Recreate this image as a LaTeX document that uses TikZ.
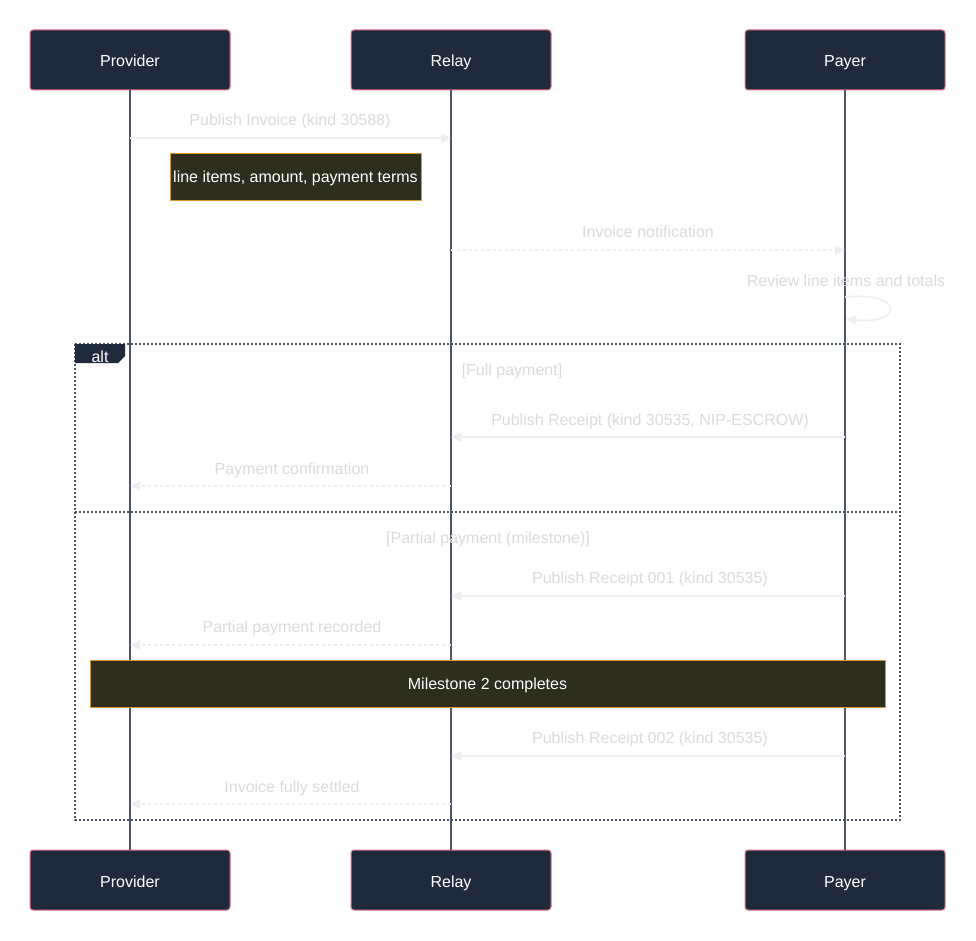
\documentclass[tikz,border=0pt]{standalone}
\usepackage{fontspec}
\setmainfont{Liberation Sans}
\usetikzlibrary{arrows.meta}
\definecolor{actfill}{HTML}{1F2A3C}
\definecolor{actdraw}{HTML}{E27186}
\definecolor{lifeln}{HTML}{4A5568}
\definecolor{msgcol}{HTML}{EEEEEE}
\definecolor{notefill}{HTML}{2E2E1E}
\definecolor{notedraw}{HTML}{D9952A}
\tikzset{
  fixtext/.style={text height=14.5pt, text depth=0.5pt},
  actor/.style={draw=actdraw, fill=actfill, line width=1pt, rounded corners=3pt,
    minimum width=200pt, minimum height=60pt, text=white, inner sep=0pt,
    font=\fontsize{16}{19}\selectfont, fixtext},
  life/.style={draw=lifeln, line width=1.5pt},
  msgline/.style={draw=msgcol, line width=1.5pt, -{Triangle[length=10pt,width=9pt]}},
  reply/.style={msgline, dash pattern=on 3pt off 3pt},
  msgtext/.style={text=msgcol!92!black, font=\fontsize{16}{19}\selectfont, inner sep=0pt, fixtext},
  notebox/.style={draw=notedraw, fill=notefill, line width=1pt, text=white,
    font=\fontsize{16}{19}\selectfont, inner sep=0pt, text height=13pt, text depth=2pt},
  frame/.style={draw=lifeln, line width=1.5pt, dash pattern=on 2pt off 2pt},
}
\begin{document}
\begin{tikzpicture}[x=1pt,y=-1pt]
\fill[white] (0,0) rectangle (976,941);
\path[use as bounding box] (0,0) rectangle (976,941);

% actors
\node[actor] (provT) at (130,60) {Provider};
\node[actor] (relT) at (451,60) {Relay};
\node[actor] (payT) at (845,60) {Payer};
\node[actor] (provB) at (130,880) {Provider};
\node[actor] (relB) at (451,880) {Relay};
\node[actor] (payB) at (845,880) {Payer};

% lifelines
\draw[life] (provT.south) -- (provB.north);
\draw[life] (relT.south) -- (relB.north);
\draw[life] (payT.south) -- (payB.north);

% message end points
\coordinate (m1a) at (130,138); \coordinate (m1b) at (451,138);
\coordinate (m2a) at (451,250); \coordinate (m2b) at (845,250);
\coordinate (m3a) at (845,297); \coordinate (m3b) at (846,319);
\coordinate (m4a) at (845,437); \coordinate (m4b) at (451,437);
\coordinate (m5a) at (451,486); \coordinate (m5b) at (130,486);
\coordinate (m6a) at (845,596); \coordinate (m6b) at (451,596);
\coordinate (m7a) at (451,645); \coordinate (m7b) at (130,645);
\coordinate (m8a) at (845,756); \coordinate (m8b) at (451,756);
\coordinate (m9a) at (451,804); \coordinate (m9b) at (130,804);

% alt frame
\draw[frame] (75,344) rectangle (900,820);
\draw[frame] (75,512) -- (900,512);
\fill[actfill] (75,344) -- (125,344) -- (125,356) -- (118,363) -- (75,363) -- cycle;
\node[text=white, font=\fontsize{16}{19}\selectfont, inner sep=0pt, fixtext] (altlab) at (100,355) {alt};
\node[msgtext] (g1) at (512,368) {[Full payment]};
\node[msgtext] (g2) at (488,536) {[Partial payment (milestone)]};

% messages
\draw[msgline] (m1a) -- (m1b);
\node[msgtext] (t1) at (290,119) {Publish Invoice (kind 30588)};
\node[notebox, minimum width=251pt, minimum height=47pt] (n1) at (295.5,177.5) {line items, amount, payment terms};

\draw[reply] (m2a) -- (m2b);
\node[msgtext] (t2) at (648,230) {Invoice notification};

\node[msgtext] (t3) at (846,279) {Review line items and totals};
\draw[msgline] (m3a) .. controls (904,291) and (904,325) .. (m3b);

\draw[msgline] (m4a) -- (m4b);
\node[msgtext] (t4) at (650,418) {Publish Receipt (kind 30535, NIP-ESCROW)};
\draw[reply] (m5a) -- (m5b);
\node[msgtext] (t5) at (292,467) {Payment confirmation};

\draw[msgline] (m6a) -- (m6b);
\node[msgtext] (t6) at (650,576) {Publish Receipt 001 (kind 30535)};
\draw[reply] (m7a) -- (m7b);
\node[msgtext] (t7) at (292,625) {Partial payment recorded};

\node[notebox, minimum width=795pt, minimum height=47pt] (n2) at (487.5,683.5) {Milestone 2 completes};

\draw[msgline] (m8a) -- (m8b);
\node[msgtext] (t8) at (650,736) {Publish Receipt 002 (kind 30535)};
\draw[reply] (m9a) -- (m9b);
\node[msgtext] (t9) at (292,785) {Invoice fully settled};
\end{tikzpicture}
\end{document}
